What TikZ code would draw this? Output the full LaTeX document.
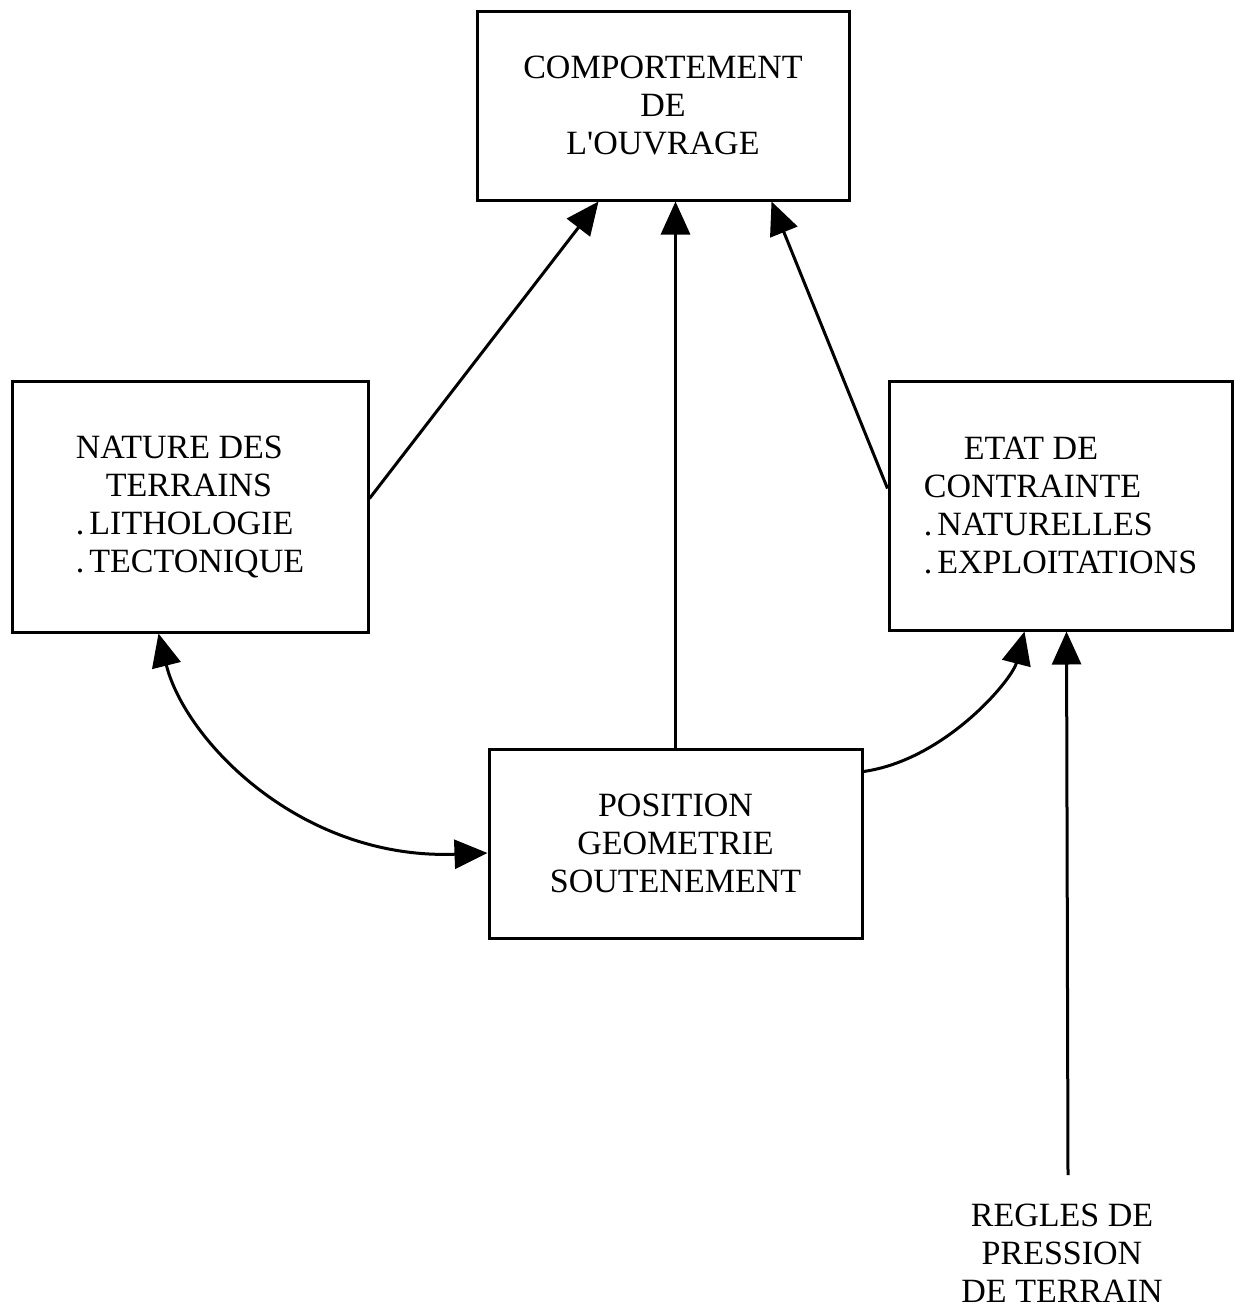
\documentclass[tikz,border=0pt]{standalone}
\usepackage{fontspec}
\setmainfont{Liberation Serif}
\usetikzlibrary{arrows.meta,calc}
\newcommand{\bul}{.\kern5pt}
\begin{document}
\begin{tikzpicture}[x=1pt,y=-1pt,
  box/.style={draw,line width=3pt,rectangle,inner sep=0pt,
    font=\fontsize{34}{38}\selectfont},
  lbl/.style={inner sep=0pt,font=\fontsize{34}{38}\selectfont,align=center},
  arr/.style={line width=3pt,-{Triangle[length=33pt,width=29pt]}},
  darr/.style={line width=3pt,{Triangle[length=33pt,width=29pt]}-{Triangle[length=33pt,width=29pt]}}]
\useasboundingbox (0,0) rectangle (1240,1311);
\node[box,minimum width=372pt,minimum height=188pt,align=center] (top) at (663,106)
  {COMPORTEMENT\\DE\\L\textquotesingle OUVRAGE};
\node[box,minimum width=356pt,minimum height=251pt,align=left] (nat) at (190,506.5)
  {NATURE DES\\\hspace*{30pt}TERRAINS\\\bul LITHOLOGIE\\\bul TECTONIQUE};
\node[box,minimum width=343pt,minimum height=249pt,align=left] (etat) at (1060.5,505.5)
  {\hspace*{40pt}ETAT DE\\CONTRAINTE\\\bul NATURELLES\\\bul EXPLOITATIONS};
\node[box,minimum width=373pt,minimum height=189pt,align=center] (pos) at (675.5,843.5)
  {POSITION\\GEOMETRIE\\SOUTENEMENT};
\node[lbl] (reg) at (1062,1253) {REGLES DE\\PRESSION\\DE TERRAIN};
\coordinate (regtop) at (1068,1175);
% arrows to top box
\draw[arr] ($(nat.north east)+(0,119)$) -- ($(top.south west)+(123,0)$);
\draw[arr] ($(pos.north west)+(188,0)$) -- ($(top.south west)+(200,0)$);
\draw[arr] ($(etat.north west)+(0,109)$) -- ($(top.south east)+(-79,0)$);
% double curved arrow
\draw[darr] ($(nat.south west)+(148,0)$) .. controls (185,740) and (300,860) .. ($(pos.west)+(0,9.5)$);
% curved arrow to etat
\draw[arr] ($(pos.north east)+(0,24)$) .. controls (945,760) and (1012,680) .. ($(etat.south west)+(137,0)$);
% vertical arrow from regles
\draw[arr] (regtop) -- ($(etat.south west)+(179,0)$);
\end{tikzpicture}
\end{document}
